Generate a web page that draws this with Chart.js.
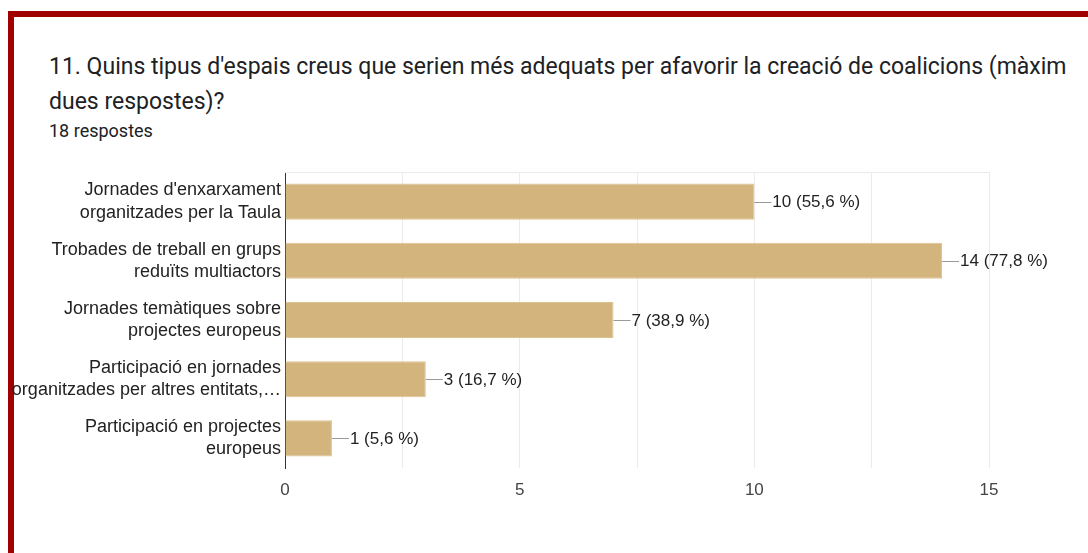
<!DOCTYPE html>
<html>
<head>
<meta charset="utf-8">
<script src="https://cdn.jsdelivr.net/npm/chart.js@4"></script>
<style>
  html, body { margin: 0; padding: 0; background: #fff; }
  body { width: 1088px; height: 553px; position: relative; overflow: hidden; }
  .frame {
    position: absolute; left: 8px; top: 11px; right: -10px; bottom: -10px;
    border-left: 6px solid #a00000; border-top: 6px solid #a00000;
  }
  .title {
    position: absolute; left: 49px; top: 49px; width: 1040px;
    font-family: Roboto, sans-serif; font-size: 23px; line-height: 35px;
    color: #202124; white-space: nowrap;
  }
  .count {
    position: absolute; left: 49px; top: 120px;
    font-family: Roboto, sans-serif; font-size: 18px; color: #202124;
  }
  .wrap { position: absolute; left: 0; top: 160px; width: 1088px; height: 350px; }
</style>
</head>
<body>
<div class="frame"></div>
<div class="title">11. Quins tipus d'espais creus que serien més adequats per afavorir la creació de coalicions (màxim<br>dues respostes)?</div>
<div class="count">18 respostes</div>
<div class="wrap"><canvas id="chart"></canvas></div>
<script>
const categories = [
  ["Jornades d'enxarxament", "organitzades per la Taula"],
  ["Trobades de treball en grups", "reduïts multiactors"],
  ["Jornades temàtiques sobre", "projectes europeus"],
  ["Participació en jornades", "organitzades per altres entitats,…"],
  ["Participació en projectes", "europeus"]
];
const responses = [10, 14, 7, 3, 1];
const totalResponses = 18;
const xGridValues = [0, 2.5, 5, 7.5, 10, 12.5, 15];
const xTickLabels = [0, 5, 10, 15];

const font = "'Liberation Sans', Arial, sans-serif";

const pctLabel = (v) => `${v} (${(v / totalResponses * 100).toFixed(1).replace(".", ",")} %)`;

const extras = {
  id: "extras",
  beforeDatasetsDraw(chart) {
    const { ctx, chartArea } = chart;
    ctx.save();
    ctx.strokeStyle = "#ebebeb";
    ctx.lineWidth = 1;
    ctx.beginPath();
    ctx.moveTo(chartArea.left, Math.round(chartArea.top) + 0.5);
    ctx.lineTo(chartArea.right, Math.round(chartArea.top) + 0.5);
    ctx.stroke();
    ctx.restore();
  },
  afterDatasetsDraw(chart) {
    const { ctx } = chart;
    const meta = chart.getDatasetMeta(0);
    ctx.save();
    ctx.font = `17px ${font}`;
    ctx.textBaseline = "middle";
    ctx.fillStyle = "#222";
    meta.data.forEach((bar, i) => {
      const y = Math.round(bar.y) + 0.5;
      ctx.strokeStyle = "#999";
      ctx.lineWidth = 1;
      ctx.beginPath();
      ctx.moveTo(bar.x, y);
      ctx.lineTo(bar.x + 17, y);
      ctx.stroke();
      ctx.fillText(pctLabel(responses[i]), bar.x + 18, bar.y + 1);
    });
    ctx.restore();
  }
};

new Chart(document.getElementById("chart"), {
  type: "bar",
  data: {
    labels: categories,
    datasets: [{
      data: responses,
      backgroundColor: "#d3b47c",
      borderColor: "#dcc293",
      borderWidth: 1,
      borderSkipped: "left",
      categoryPercentage: 1,
      barPercentage: 0.61
    }]
  },
  options: {
    indexAxis: "y",
    responsive: true,
    maintainAspectRatio: false,
    animation: false,
    layout: { padding: { top: 12, right: 99, bottom: 0, left: 0 } },
    plugins: { legend: { display: false }, tooltip: { enabled: false } },
    scales: {
      x: {
        min: 0,
        max: 15,
        afterBuildTicks: (s) => { s.ticks = xGridValues.map((v) => ({ value: v })); },
        afterFit: (s) => { s.height = 42; s.paddingLeft = 0; s.paddingRight = 0; },
        grid: { color: "#ebebeb", drawTicks: false },
        border: { display: false },
        ticks: {
          padding: 12, color: "#444", autoSkip: false, maxRotation: 0,
          font: { family: font, size: 17 },
          callback: (v) => (xTickLabels.includes(v) ? String(v) : "")
        }
      },
      y: {
        afterFit: (s) => { s.width = 285; s.paddingTop = 0; s.paddingBottom = 0; },
        grid: { display: false, drawTicks: false },
        border: { color: "#333", width: 1 },
        ticks: {
          padding: 4, color: "#222", autoSkip: false,
          font: { family: font, size: 18, lineHeight: 1.23 }
        }
      }
    }
  },
  plugins: [extras]
});
</script>
</body>
</html>
